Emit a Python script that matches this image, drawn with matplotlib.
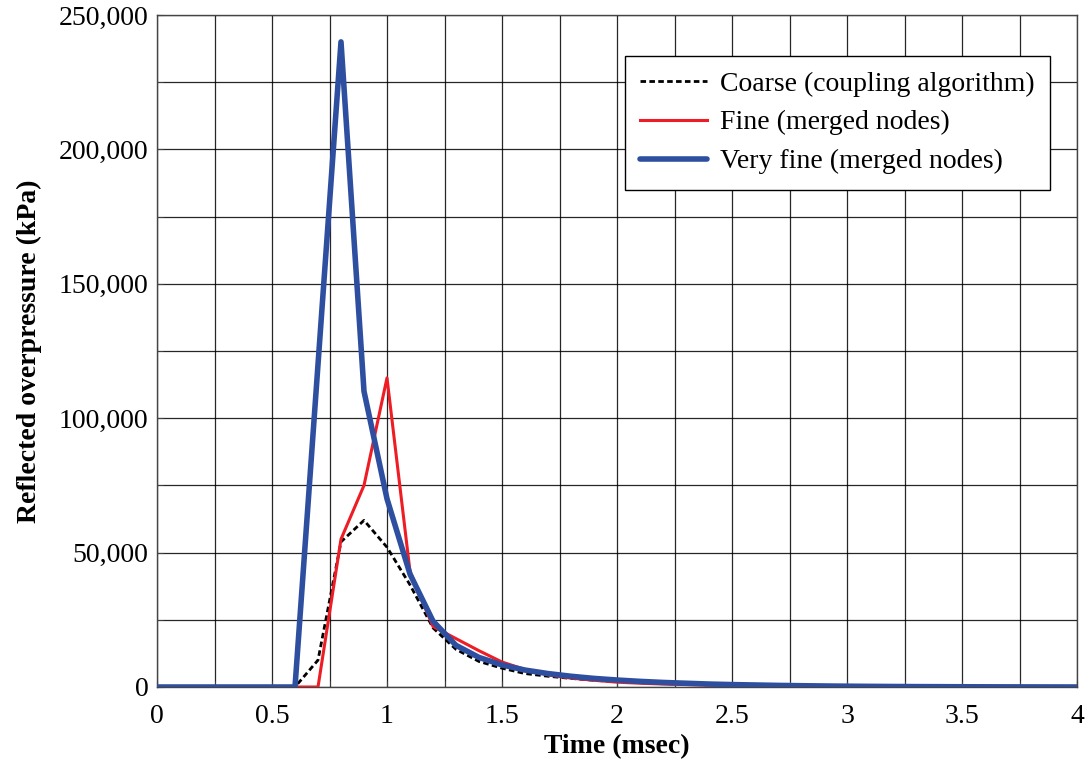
import matplotlib
matplotlib.use("Agg")
import matplotlib.pyplot as plt
from matplotlib.ticker import MultipleLocator, FuncFormatter

# ---- data ----
time_ms = [0.0, 0.1, 0.2, 0.3, 0.4, 0.5, 0.6, 0.7, 0.8, 0.9, 1.0, 1.1, 1.2, 1.3, 1.4,
           1.5, 1.6, 1.7, 1.8, 1.9, 2.0, 2.1, 2.2, 2.3, 2.4, 2.5, 2.6, 2.7, 2.8, 2.9,
           3.0, 3.1, 3.2, 3.3, 3.4, 3.5, 3.6, 3.7, 3.8, 3.9, 4.0]

coarse = [0, 0, 0, 0, 0, 0, 0, 10000, 54000, 62000, 52000, 38000, 22000, 14000, 9500,
          7000, 5000, 4000, 3200, 2500, 2000, 1600, 1300, 1000, 800, 650, 500, 400, 320, 260,
          200, 160, 130, 100, 80, 60, 50, 40, 30, 20, 10]

fine = [0, 0, 0, 0, 0, 0, 0, 0, 55000, 75000, 115000, 43000, 22500, 18000, 13500,
        9300, 6500, 4500, 3300, 2500, 1800, 1400, 1100, 900, 700, 550, 450, 350, 280, 220,
        180, 140, 110, 90, 70, 55, 45, 35, 25, 15, 10]

very_fine = [0, 0, 0, 0, 0, 0, 0, 120000, 240000, 110000, 70000, 42000, 24500, 15500, 11000,
             8200, 6300, 5000, 4000, 3200, 2600, 2100, 1700, 1400, 1100, 900, 750, 600, 480, 380,
             300, 240, 190, 150, 120, 90, 70, 50, 35, 20, 10]

labels = ["Coarse (coupling algorithm)", "Fine (merged nodes)", "Very fine (merged nodes)"]
xlabel = "Time (msec)"
ylabel = "Reflected overpressure (kPa)"

# ---- plot ----
plt.rcParams['font.family'] = ['Liberation Serif', 'DejaVu Serif']
fig = plt.figure(figsize=(10.9, 7.65), dpi=100)
ax = fig.add_axes([157/1090, 78/765, 920/1090, 672/765])

ax.plot(time_ms, coarse, color='black', lw=2.0, linestyle=(0, (2, 1.2)), label=labels[0], zorder=3)
ax.plot(time_ms, fine, color='#ee1c24', lw=2.2, label=labels[1], zorder=4)
ax.plot(time_ms, very_fine, color='#2e4fa0', lw=4.0, label=labels[2], zorder=5,
        solid_capstyle='round', solid_joinstyle='round')

ax.set_xlim(0, 4)
ax.set_ylim(0, 250000)
ax.xaxis.set_major_locator(MultipleLocator(0.5))
ax.xaxis.set_minor_locator(MultipleLocator(0.25))
ax.yaxis.set_major_locator(MultipleLocator(50000))
ax.yaxis.set_minor_locator(MultipleLocator(25000))
ax.xaxis.set_major_formatter(FuncFormatter(lambda v, p: f"{v:g}"))
ax.yaxis.set_major_formatter(FuncFormatter(lambda v, p: f"{int(v):,}"))

ax.grid(True, which='both', color='black', lw=0.9, alpha=0.85)
ax.set_axisbelow(True)
ax.tick_params(which='both', direction='in', labelsize=20, length=4, color='#444444')
ax.tick_params(axis='x', pad=12)
ax.tick_params(axis='y', pad=6)
for s in ax.spines.values():
    s.set_color('#444444')
    s.set_linewidth(1.0)

ax.set_xlabel(xlabel, fontsize=20, fontweight='bold', labelpad=4)
ax.set_ylabel(ylabel, fontsize=20, fontweight='bold', labelpad=12)

leg = ax.legend(loc='upper right', bbox_to_anchor=(0.971, 0.939), borderaxespad=0,
                fontsize=20, frameon=True, fancybox=False, framealpha=1,
                edgecolor='black', handlelength=2.4, handletextpad=0.5,
                labelspacing=0.48, borderpad=0.55)
leg.get_frame().set_linewidth(1.0)

fig.savefig("out.png", dpi=100)
